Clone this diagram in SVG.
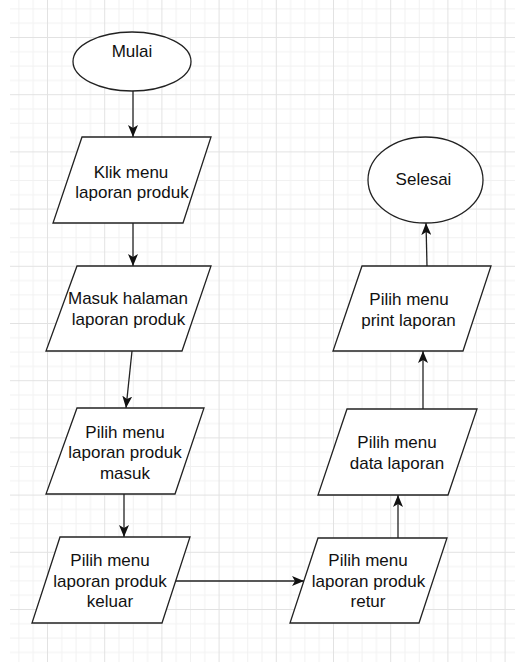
<svg xmlns="http://www.w3.org/2000/svg" width="515" height="662" viewBox="0 0 515 662">
  <defs>
    <pattern id="grid" patternUnits="userSpaceOnUse" x="-10.2" y="-20.2" width="57.2" height="57.2">
      <rect x="14.3" y="0" width="1" height="57.2" fill="#f1f1f1"/>
      <rect x="28.6" y="0" width="1" height="57.2" fill="#f1f1f1"/>
      <rect x="42.9" y="0" width="1" height="57.2" fill="#f1f1f1"/>
      <rect x="0" y="14.3" width="57.2" height="1" fill="#f1f1f1"/>
      <rect x="0" y="28.6" width="57.2" height="1" fill="#f1f1f1"/>
      <rect x="0" y="42.9" width="57.2" height="1" fill="#f1f1f1"/>
      <rect x="0" y="0" width="1" height="57.2" fill="#e2e2e2"/>
      <rect x="0" y="0" width="57.2" height="1" fill="#e2e2e2"/>
    </pattern>
    <marker id="arrow" viewBox="0 0 12 10" refX="12" refY="5" markerWidth="12" markerHeight="10" markerUnits="userSpaceOnUse" orient="auto">
      <path d="M0,0 L12,5 L0,10 L3,5 Z" fill="#111"/>
    </marker>
    <style>
      .shape { fill: #ffffff; stroke: #222222; stroke-width: 1.3; }
      .label { font-family: "Liberation Sans", Arial, sans-serif; font-size: 17px; fill: #111111; text-anchor: middle; }
      .edge { fill: none; stroke: #222222; stroke-width: 1.3; marker-end: url(#arrow); }
    </style>
  </defs>

  <!-- canvas -->
  <rect x="0" y="0" width="515" height="662" fill="#ffffff"/>
  <rect x="10" y="0" width="505" height="662" fill="url(#grid)"/>

  <!-- connectors -->
  <g id="connectors">
    <line class="edge" x1="133" y1="91" x2="133" y2="137"/>
    <line class="edge" x1="133" y1="223" x2="133" y2="266"/>
    <line class="edge" x1="132" y1="351" x2="126" y2="408"/>
    <line class="edge" x1="124" y1="494" x2="124" y2="537"/>
    <line class="edge" x1="175" y1="581" x2="304" y2="581"/>
    <line class="edge" x1="398" y1="538" x2="398" y2="495"/>
    <line class="edge" x1="423" y1="409" x2="423" y2="351"/>
    <line class="edge" x1="427" y1="266" x2="426" y2="223"/>
  </g>

  <!-- start -->
  <g id="mulai">
    <ellipse class="shape" cx="132" cy="61.5" rx="59" ry="29.5"/>
    <text class="label" x="132" y="57">Mulai</text>
  </g>

  <g id="klik-menu">
    <polygon class="shape" points="82,137 211,137 183,223 53,223"/>
    <text class="label" x="131" y="178">Klik menu</text>
    <text class="label" x="132" y="198">laporan produk</text>
  </g>

  <g id="masuk-halaman">
    <polygon class="shape" points="77,266 211,266 182,351 46,351"/>
    <text class="label" x="128" y="304">Masuk halaman</text>
    <text class="label" x="128.5" y="325">laporan produk</text>
  </g>

  <g id="pilih-masuk">
    <polygon class="shape" points="77,408 204,408 175,494 46,494"/>
    <text class="label" x="125" y="438">Pilih menu</text>
    <text class="label" x="125" y="458">laporan produk</text>
    <text class="label" x="125" y="478.5">masuk</text>
  </g>

  <g id="pilih-keluar">
    <polygon class="shape" points="60,537 190,537 162,623 32,623"/>
    <text class="label" x="110" y="566">Pilih menu</text>
    <text class="label" x="110" y="586.5">laporan produk</text>
    <text class="label" x="110" y="607">keluar</text>
  </g>

  <g id="pilih-retur">
    <polygon class="shape" points="318,538 447,538 419,623 290,623"/>
    <text class="label" x="368" y="566">Pilih menu</text>
    <text class="label" x="368.5" y="586.5">laporan produk</text>
    <text class="label" x="368" y="607">retur</text>
  </g>

  <g id="data-laporan">
    <polygon class="shape" points="347,409 477,409 448,495 318,495"/>
    <text class="label" x="397" y="448">Pilih menu</text>
    <text class="label" x="397" y="469">data laporan</text>
  </g>

  <g id="print-laporan">
    <polygon class="shape" points="362,266 491,266 463,351 333,351"/>
    <text class="label" x="409" y="305">Pilih menu</text>
    <text class="label" x="408.5" y="326">print laporan</text>
  </g>

  <!-- end -->
  <g id="selesai">
    <ellipse class="shape" cx="425.5" cy="180" rx="57.5" ry="43"/>
    <text class="label" x="423.5" y="185">Selesai</text>
  </g>
</svg>
